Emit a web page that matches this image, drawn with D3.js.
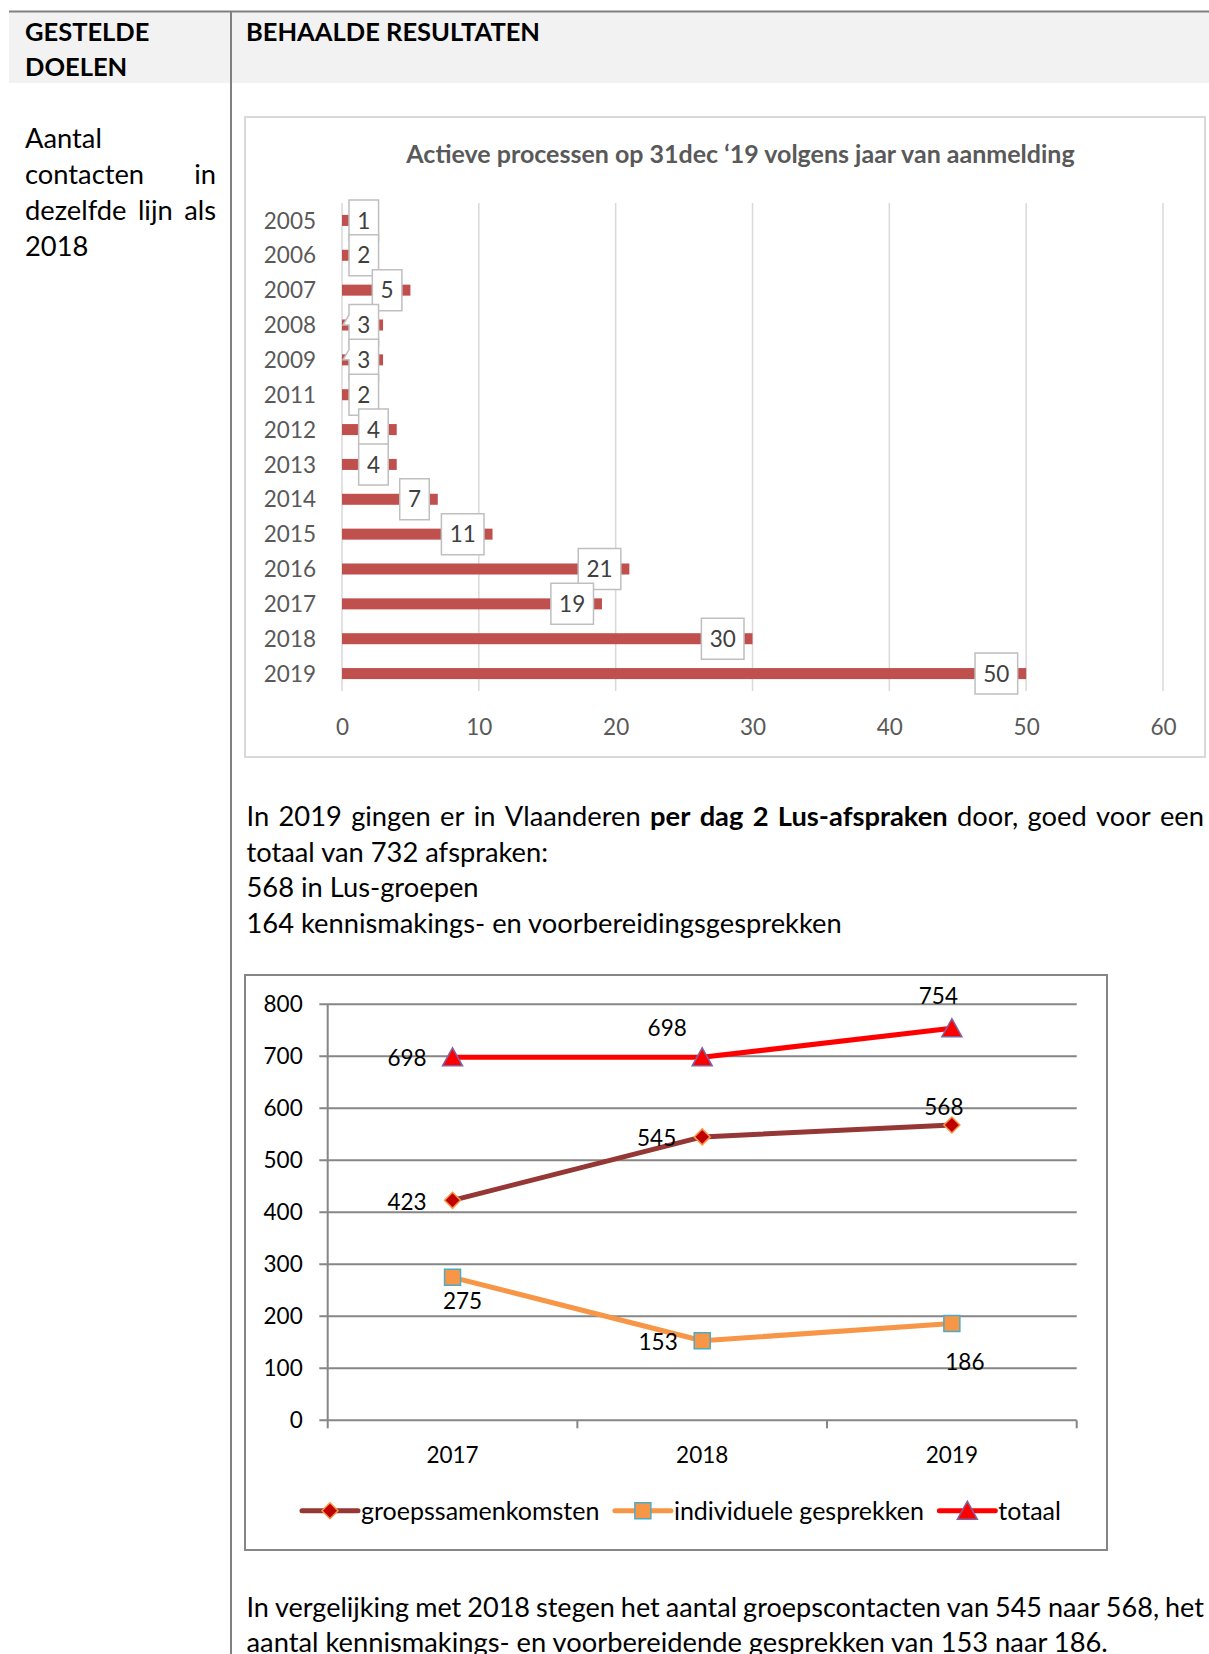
<!DOCTYPE html>
<meta charset="utf-8">
<style>
body { margin: 0; background: #fff; }
svg { display: block; font-family: Lato, "Open Sans", sans-serif; }
</style>
<svg width="1209" height="1654"></svg>
<script src="https://d3js.org/d3.v7.min.js"></script>
<script>

// ---- data ----
var barYears = ["2005", "2006", "2007", "2008", "2009", "2011", "2012", "2013", "2014", "2015", "2016", "2017", "2018", "2019"];
var barValues = [1, 2, 5, 3, 3, 2, 4, 4, 7, 11, 21, 19, 30, 50];
var barTicks = [0, 10, 20, 30, 40, 50, 60];
var barTitle = "Actieve processen op 31dec \u201819 volgens jaar van aanmelding";

var lineYears = ["2017", "2018", "2019"];
var groeps = [423, 545, 568];
var individueel = [275, 153, 186];
var totaal = [698, 698, 754];
var lineTicks = [0, 100, 200, 300, 400, 500, 600, 700, 800];
var seriesNames = ["groepssamenkomsten", "individuele gesprekken", "totaal"];

var svg = d3.select("svg");
var FONT = "Lato";

// measure helper
function textWidth(str, size, weight) {
  var t = svg.append("text").attr("font-size", size).attr("font-weight", weight || "normal").text(str);
  var w = t.node().getComputedTextLength();
  t.remove();
  return w;
}

// a line made of runs [{t, b}], left aligned
function plainLine(x, y, runs, size) {
  var t = svg.append("text").attr("x", x).attr("y", y).attr("font-size", size).attr("fill", "#000");
  runs.forEach(function(r) {
    t.append("tspan").attr("font-weight", r.b ? "bold" : "normal").text(r.t);
  });
  return t;
}

// justified line: word spaces are stretched so the line fills x0..x1
// (if the words are too wide, glyphs get squeezed a little)
function justifyLine(x0, x1, y, runs, size) {
  var words = [];
  runs.forEach(function(r) {
    r.t.split(" ").forEach(function(w) { if (w) words.push({t: w, b: r.b}); });
  });
  var total = 0;
  words.forEach(function(w) { w.w = textWidth(w.t, size, w.b ? "bold" : "normal"); total += w.w; });
  var minGap = size * 0.22;
  var scale = 1;
  if ((x1 - x0 - total) / (words.length - 1) < minGap) {
    scale = (x1 - x0 - minGap * (words.length - 1)) / total;
  }
  var gap = (x1 - x0 - total * scale) / (words.length - 1);
  var x = x0;
  words.forEach(function(w) {
    var t = svg.append("text").attr("x", x).attr("y", y).attr("font-size", size)
      .attr("font-weight", w.b ? "bold" : "normal").attr("fill", "#000").text(w.t);
    if (scale < 1) t.attr("textLength", w.w * scale).attr("lengthAdjust", "spacingAndGlyphs");
    x += w.w * scale + gap;
  });
}

// ---- page frame ----
svg.append("rect").attr("x", 9).attr("y", 12).attr("width", 1200).attr("height", 71).attr("fill", "#f2f2f2");
svg.append("line").attr("x1", 9).attr("x2", 1209).attr("y1", 11.5).attr("y2", 11.5).attr("stroke", "#808080").attr("stroke-width", 2);
svg.append("line").attr("x1", 231).attr("x2", 231).attr("y1", 11).attr("y2", 1654).attr("stroke", "#808080").attr("stroke-width", 2);

var BODY = 27.3, HEAD = 25.5;
plainLine(25, 40.5, [{t: "GESTELDE", b: true}], HEAD);
plainLine(25, 76, [{t: "DOELEN", b: true}], HEAD);
plainLine(246, 40.5, [{t: "BEHAALDE RESULTATEN", b: true}], HEAD);

plainLine(25, 148, [{t: "Aantal"}], BODY);
justifyLine(25, 216, 184, [{t: "contacten in"}], BODY);
justifyLine(25, 216, 220, [{t: "dezelfde lijn als"}], BODY);
plainLine(25, 256, [{t: "2018"}], BODY);

justifyLine(246.5, 1204, 825.5, [
  {t: "In 2019 gingen er in Vlaanderen"},
  {t: "per dag 2 Lus-afspraken", b: true},
  {t: "door, goed voor een"}
], BODY);
plainLine(246.5, 861.5, [{t: "totaal van 732 afspraken:"}], BODY);
plainLine(246.5, 897, [{t: "568 in Lus-groepen"}], BODY);
plainLine(246.5, 932.5, [{t: "164 kennismakings- en voorbereidingsgesprekken"}], BODY);

justifyLine(246.5, 1204, 1617, [{t: "In vergelijking met 2018 stegen het aantal groepscontacten van 545 naar 568, het"}], BODY);
plainLine(246.5, 1652, [{t: "aantal kennismakings- en voorbereidende gesprekken van 153 naar 186."}], BODY);

// ---- bar chart ----
var LBL = 22.5;
svg.append("rect").attr("x", 245).attr("y", 117).attr("width", 960).attr("height", 640)
  .attr("fill", "#fff").attr("stroke", "#d9d9d9").attr("stroke-width", 2);

svg.append("text").attr("x", 740.5).attr("y", 163.3).attr("text-anchor", "middle")
  .attr("font-size", 25).attr("font-weight", "bold").attr("fill", "#595959").text(barTitle);

var xb = d3.scaleLinear().domain([0, 60]).range([342, 1163]);
var yb = d3.scaleBand().domain(barYears).range([203, 691]).paddingInner(0.684).paddingOuter(0.342);

var gb = svg.append("g");
gb.selectAll("line.grid").data(barTicks).join("line").attr("class", "grid")
  .attr("x1", xb).attr("x2", xb).attr("y1", 203).attr("y2", 691)
  .attr("stroke", "#d9d9d9").attr("stroke-width", 1.5);

var xAxisB = gb.append("g").attr("transform", "translate(0,691)")
  .call(d3.axisBottom(xb).tickValues(barTicks).tickSize(0).tickPadding(28));
xAxisB.select(".domain").remove();
xAxisB.attr("font-family", FONT).attr("font-size", LBL).selectAll("text").attr("fill", "#595959");

var yAxisB = gb.append("g").attr("transform", "translate(342,0)")
  .call(d3.axisLeft(yb).tickSize(0).tickPadding(26));
yAxisB.select(".domain").remove();
yAxisB.attr("font-family", FONT).attr("font-size", LBL).selectAll("text").attr("fill", "#595959").attr("dy", "0.36em");

gb.selectAll("rect.bar").data(barValues).join("rect").attr("class", "bar")
  .attr("x", xb(0)).attr("y", function(d, i) { return yb(barYears[i]); })
  .attr("width", function(d) { return xb(d) - xb(0); })
  .attr("height", yb.bandwidth()).attr("fill", "#c0504d");

// data label boxes (callouts)
barValues.forEach(function(v, i) {
  var cy = yb(barYears[i]) + yb.bandwidth() / 2;
  var w = textWidth(String(v), LBL) + 16.5, h = 41;
  var minLeft = xb(0) + 7;
  var right = Math.max(xb(v) - 8.5, minLeft + w);
  var left = right - w, top = cy - h / 2;
  var path;
  if (right > xb(v) - 8.5 && xb(v) > right) {
    // clamped box with a small pointer back to the bar
    path = "M" + left + "," + top + "H" + right + "V" + (top + h) + "H" + left +
      "V" + cy + "L" + (xb(0) + 1) + "," + cy + "L" + left + "," + (cy - 10) + "Z";
  } else {
    path = "M" + left + "," + top + "H" + right + "V" + (top + h) + "H" + left + "Z";
  }
  gb.append("path").attr("d", path).attr("fill", "#fff").attr("stroke", "#bfbfbf").attr("stroke-width", 1.5);
  gb.append("text").attr("x", (left + right) / 2).attr("y", cy).attr("dy", "0.36em")
    .attr("text-anchor", "middle").attr("font-size", LBL).attr("fill", "#404040").text(v);
});

// ---- line chart ----
svg.append("rect").attr("x", 245).attr("y", 975).attr("width", 862).attr("height", 575)
  .attr("fill", "#fff").attr("stroke", "#868686").attr("stroke-width", 2);

var xl = d3.scaleBand().domain(lineYears).range([327.7, 1076.7]);
var yl = d3.scaleLinear().domain([0, 800]).range([1420.3, 1004.3]);
var cx = function(i) { return xl(lineYears[i]) + xl.bandwidth() / 2; };

var gl = svg.append("g");
gl.selectAll("line.grid").data(lineTicks).join("line").attr("class", "grid")
  .attr("x1", 319.3).attr("x2", 1076.7).attr("y1", yl).attr("y2", yl)
  .attr("stroke", "#868686").attr("stroke-width", 2);
gl.append("line").attr("x1", 327.7).attr("x2", 327.7).attr("y1", yl(800)).attr("y2", yl(0))
  .attr("stroke", "#868686").attr("stroke-width", 2);
var edges = lineYears.map(function(d) { return xl(d); }).concat([xl.range()[1]]);
gl.selectAll("line.xt").data(edges).join("line").attr("class", "xt")
  .attr("x1", function(d) { return d; }).attr("x2", function(d) { return d; })
  .attr("y1", yl(0)).attr("y2", yl(0) + 8).attr("stroke", "#868686").attr("stroke-width", 2);

gl.selectAll("text.yl").data(lineTicks).join("text").attr("class", "yl")
  .attr("x", 302.7).attr("y", yl).attr("dy", "0.36em").attr("text-anchor", "end")
  .attr("font-size", LBL).attr("fill", "#000").text(function(d) { return d; });
gl.selectAll("text.xl").data(lineYears).join("text").attr("class", "xl")
  .attr("x", function(d, i) { return cx(i); }).attr("y", 1462.7).attr("text-anchor", "middle")
  .attr("font-size", LBL).attr("fill", "#000").text(function(d) { return d; });

var marker = {
  diamond: function(g) { return g.append("path").attr("d", "M0,-8L8,0L0,8L-8,0Z").attr("fill", "#c00000").attr("stroke", "#f79646").attr("stroke-width", 1.5); },
  square: function(g) { return g.append("path").attr("d", "M-8,-8H8V8H-8Z").attr("fill", "#f79646").attr("stroke", "#4bacc6").attr("stroke-width", 1.5); },
  triangle: function(g) { return g.append("path").attr("d", "M0,-9.5L10,8.5L-10,8.5Z").attr("fill", "#ff0000").attr("stroke", "#8064a2").attr("stroke-width", 1.5); }
};

// label placement (dx, dy, anchor) per point
var series = [
  {name: seriesNames[0], values: groeps, color: "#953735", marker: "diamond",
   labels: [[-26, 1.5, "end"], [-26, 1, "end"], [-8, -18, "middle"]]},
  {name: seriesNames[1], values: individueel, color: "#f79646", marker: "square",
   labels: [[10, 24, "middle"], [-24.5, 1.5, "end"], [13, 38, "middle"]]},
  {name: seriesNames[2], values: totaal, color: "#ff0000", marker: "triangle",
   labels: [[-26, 0.5, "end"], [-35, -29, "middle"], [-13.5, -32, "middle"]]}
];

var line = d3.line().x(function(d, i) { return cx(i); }).y(function(d) { return yl(d); });

series.forEach(function(s) {
  gl.append("path").attr("d", line(s.values)).attr("fill", "none")
    .attr("stroke", s.color).attr("stroke-width", 5).attr("stroke-linejoin", "round");
  s.values.forEach(function(v, i) {
    var m = gl.append("g").attr("transform", "translate(" + cx(i) + "," + yl(v) + ")");
    marker[s.marker](m);
  });
});
series.forEach(function(s) {
  s.values.forEach(function(v, i) {
    var p = s.labels[i];
    gl.append("text").attr("x", cx(i) + p[0]).attr("y", yl(v) + p[1]).attr("dy", "0.36em")
      .attr("text-anchor", p[2]).attr("font-size", LBL).attr("fill", "#000").text(v);
  });
});

// legend
var LEG = 25;
var lx = 302, ly = 1510.7;
series.forEach(function(s) {
  var g = gl.append("g");
  g.append("line").attr("x1", lx).attr("x2", lx + 56).attr("y1", ly).attr("y2", ly)
    .attr("stroke", s.color).attr("stroke-width", 5).attr("stroke-linecap", "round");
  marker[s.marker](g.append("g").attr("transform", "translate(" + (lx + 28) + "," + ly + ")"));
  g.append("text").attr("x", lx + 59).attr("y", ly).attr("dy", "0.36em")
    .attr("font-size", LEG).attr("fill", "#000").text(s.name);
  lx += 59 + textWidth(s.name, LEG) + 15.5;
});

</script>
